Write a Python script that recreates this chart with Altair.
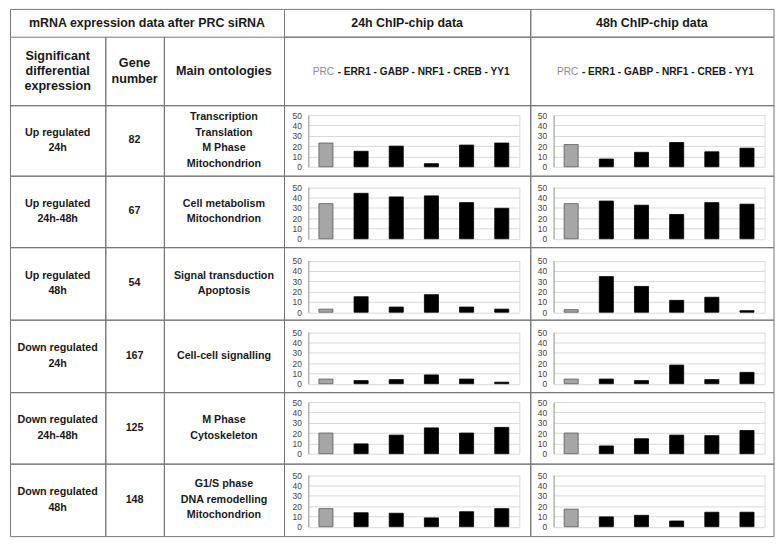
import altair as alt
import pandas as pd

# ---------------- data ----------------
tfs = ["PRC", "ERR1", "GABP", "NRF1", "CREB", "YY1"]

expression_labels = [
    "Up regulated\n24h",
    "Up regulated\n24h-48h",
    "Up regulated\n48h",
    "Down regulated\n24h",
    "Down regulated\n24h-48h",
    "Down regulated\n48h",
]
gene_numbers = ["82", "67", "54", "167", "125", "148"]
ontologies = [
    "Transcription\nTranslation\nM Phase\nMitochondrion",
    "Cell metabolism\nMitochondrion",
    "Signal transduction\nApoptosis",
    "Cell-cell signalling",
    "M Phase\nCytoskeleton",
    "G1/S phase\nDNA remodelling\nMitochondrion",
]

chip_24h = [
    [23, 15, 20, 3, 21, 23],
    [34, 44, 40.5, 41.5, 35, 29.5],
    [3, 15, 5, 17, 5, 3],
    [4.5, 3, 4, 8.5, 4.5, 1.5],
    [20, 9.5, 18, 25, 20, 25.5],
    [17.5, 13.5, 13, 8.5, 14.5, 17.5],
]
chip_48h = [
    [21.5, 7.5, 14, 23.5, 14.5, 18],
    [34, 36.5, 32.5, 23.5, 35, 33.5],
    [2.5, 34.5, 25, 11.5, 14.5, 1.5],
    [4.5, 4.5, 3, 18, 4, 11],
    [20, 7.5, 14.5, 18, 17.5, 22.5],
    [17, 9.5, 11, 5.5, 14, 14],
]

title_main = "mRNA expression data after PRC siRNA"
title_24 = "24h ChIP-chip data"
title_48 = "48h ChIP-chip data"
header_cols = ["Significant\ndifferential\nexpression", "Gene\nnumber", "Main ontologies"]
y_ticks = [0, 10, 20, 30, 40, 50]

# ---------------- layout / style ----------------
FONT = "Liberation Sans"
LINE = "#767676"
TXT = "#1a1a1a"
col_w = [96, 59, 121, 248, 245]
title_h = 28
header_h = 69
row_h = [71, 72, 73, 73, 72, 73]
plot_top = [10, 11.5, 13.5, 12.5, 10, 11.5]
plot_h = 52
x_range_24 = [24.5, 237]
x_range_48 = [23.5, 236]
NO_STROKE = alt.ViewBackground(stroke="transparent")


def text_layer(text, w, h, size, lh=15.5, cx=None):
    df = pd.DataFrame({"t": [text]})
    n = text.count("\n") + 1
    y0 = h / 2 - (n - 1) * lh / 2
    return (
        alt.Chart(df)
        .mark_text(font=FONT, fontSize=size, fontWeight="bold", color=TXT,
                   align="center", baseline="middle", lineBreak="\n", lineHeight=lh)
        .encode(text="t:N", x=alt.value(w / 2 if cx is None else cx), y=alt.value(y0))
    )


def text_cell(text, w, h, size, lh=15.5):
    return text_layer(text, w, h, size, lh).properties(width=w, height=h)


def merged_title_part(w, h, left_edge, text=None, cx=None):
    # frame lines of the merged title cell drawn as axis domains
    frame_df = pd.DataFrame({"fx": [0.0], "fy": [0.0]})
    enc = dict(
        x=alt.X("fx:Q", scale=alt.Scale(domain=[0, 1]),
                axis=alt.Axis(orient="top", labels=False, ticks=False, grid=False, title=None,
                              domainColor=LINE, domainWidth=1)),
    )
    if left_edge:
        enc["y"] = alt.Y("fy:Q", scale=alt.Scale(domain=[0, 1]),
                         axis=alt.Axis(orient="left", labels=False, ticks=False, grid=False,
                                       title=None, domainColor=LINE, domainWidth=1))
    frame = alt.Chart(frame_df).mark_point(opacity=0).encode(**enc)
    layers = [frame]
    if text is not None:
        layers.append(text_layer(text, w, h, 12.5, cx=cx))
    return alt.layer(*layers).properties(width=w, height=h, view=NO_STROKE)


def tf_header(w, h, split):
    df = pd.DataFrame({"a": [tfs[0]], "b": ["- " + " - ".join(tfs[1:])]})
    prc = alt.Chart(df).mark_text(
        font=FONT, fontSize=10.2, color="#8c8c8c", align="right", baseline="middle"
    ).encode(text="a:N", x=alt.value(split - 1.5), y=alt.value(h / 2 + 1.5))
    rest = alt.Chart(df).mark_text(
        font=FONT, fontSize=10.2, fontWeight="bold", color=TXT, align="left", baseline="middle"
    ).encode(text="b:N", x=alt.value(split + 2), y=alt.value(h / 2 + 1.5))
    return alt.layer(prc, rest).properties(width=w, height=h)


def bar_cell(vals, w, h, top, xr):
    df = pd.DataFrame({"tf": tfs, "value": vals})
    bottom = top + plot_h
    xs = alt.Scale(domain=tfs, range=xr, paddingInner=0.6, paddingOuter=0.3)
    ys = alt.Scale(domain=[0, 50], range=[bottom, top], nice=False, zero=True)
    base = alt.Chart(df)
    bars = base.mark_bar(strokeWidth=0.8).encode(
        x=alt.X("tf:N", scale=xs, axis=alt.Axis(labels=False, ticks=False, title=None, grid=False,
                                                   domainColor="#8c8c8c", offset=-(h - bottom))),
        y=alt.Y("value:Q", scale=ys, axis=alt.Axis(
            values=y_ticks, title=None, ticks=False, tickSize=0, labelPadding=7,
            labelFont=FONT, labelFontSize=8.5, labelColor="#444444",
            labelFlush=False, labelOverlap=False,
            domainColor="#8c8c8c", grid=True, gridColor="#d9d9d9", offset=-xr[0])),
        color=alt.condition(alt.datum.tf == tfs[0], alt.value("#a6a6a6"), alt.value("#000000")),
        stroke=alt.condition(alt.datum.tf == tfs[0], alt.value("#5a5a5a"), alt.value("#000000")),
    )
    frame = base.mark_bar(opacity=0).encode(
        x=alt.X("tf:N", scale=xs, axis=None),
        y=alt.Y("value:Q", scale=ys, axis=alt.Axis(
            orient="right", labels=False, ticks=False, grid=False, title=None,
            domainColor="#d9d9d9", offset=-(w - xr[1]))),
    )
    return alt.layer(bars, frame).resolve_axis(y="independent").properties(width=w, height=h)


merged_w = col_w[0] + col_w[1] + col_w[2]
cells = [
    merged_title_part(col_w[0], title_h, True, title_main, cx=merged_w / 2),
    merged_title_part(col_w[1], title_h, False),
    merged_title_part(col_w[2], title_h, False),
    text_cell(title_24, col_w[3], title_h, 12.5),
    text_cell(title_48, col_w[4], title_h, 12.5),
    text_cell(header_cols[0], col_w[0], header_h, 12.7, lh=15.4),
    text_cell(header_cols[1], col_w[1], header_h, 12.7, lh=15.4),
    text_cell(header_cols[2], col_w[2], header_h, 12.7),
    tf_header(col_w[3], header_h, 52),
    tf_header(col_w[4], header_h, 50),
]
for i in range(6):
    h = row_h[i]
    cells += [
        text_cell(expression_labels[i], col_w[0], h, 10.8),
        text_cell(gene_numbers[i], col_w[1], h, 10.8),
        text_cell(ontologies[i], col_w[2], h, 10.8),
        bar_cell(chip_24h[i], col_w[3], h, plot_top[i], x_range_24),
        bar_cell(chip_48h[i], col_w[4], h, plot_top[i], x_range_48),
    ]

chart = (
    alt.concat(*cells, columns=5, spacing=0, bounds="flush", align="each")
    .properties(padding={"left": -2, "top": -2, "right": 0.5, "bottom": 0.5})
    .configure_view(stroke=LINE, strokeWidth=1)
)

chart.save("out.html", embed_options={"renderer": "svg", "actions": False})
